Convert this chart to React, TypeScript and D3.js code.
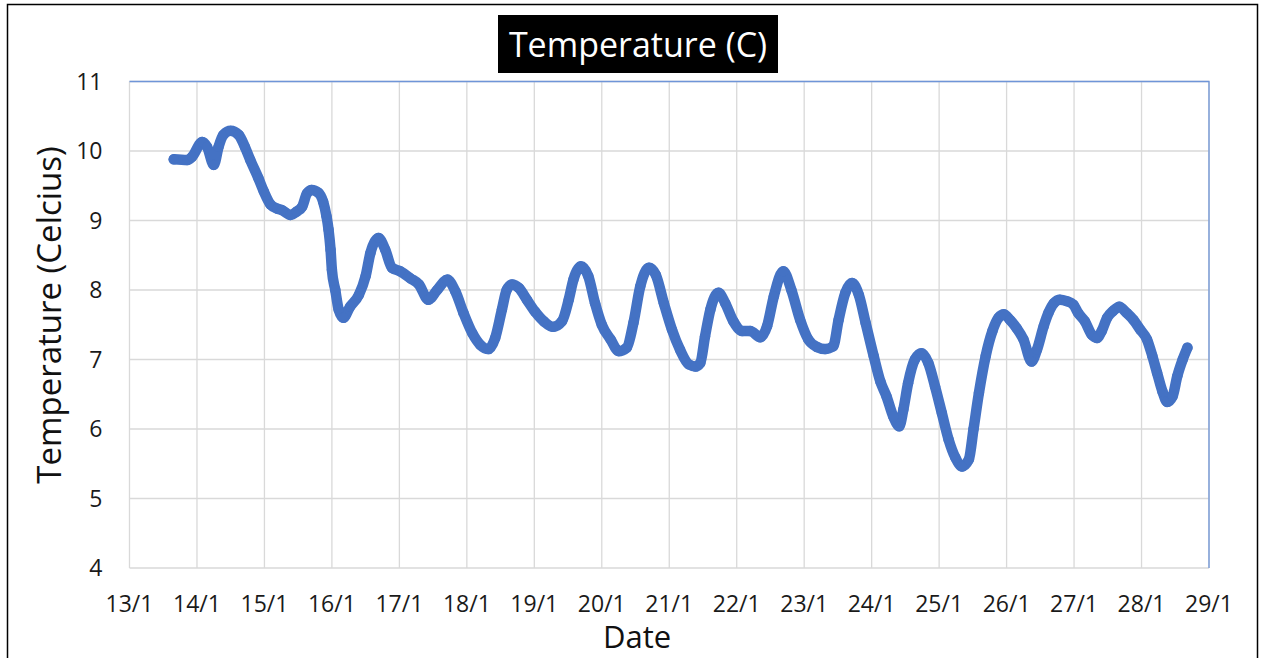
import React, { useEffect, useRef } from "react";
import * as d3 from "d3";

// day of month (fractional) and temperature
const days = [
  13.656, 13.855, 13.93, 14.077, 14.15, 14.25, 14.32, 14.39, 14.5, 14.62, 14.71, 14.79, 14.91, 14.99,
  15.09, 15.19, 15.26, 15.385, 15.48, 15.56, 15.63, 15.7, 15.8, 15.87, 15.92, 15.95, 15.98, 16.0,
  16.05, 16.1, 16.17, 16.27, 16.4, 16.5, 16.57, 16.69, 16.79, 16.89, 17.01, 17.16, 17.29, 17.43,
  17.56, 17.71, 17.83, 17.95, 18.08, 18.2, 18.32, 18.42, 18.52, 18.59, 18.67, 18.77, 18.89, 19.01,
  19.14, 19.28, 19.41, 19.51, 19.58, 19.69, 19.8, 19.9, 20.0, 20.13, 20.25, 20.37, 20.47, 20.57,
  20.7, 20.8, 20.92, 21.04, 21.16, 21.29, 21.39, 21.46, 21.53, 21.61, 21.73, 21.83, 21.95, 22.08,
  22.2, 22.35, 22.45, 22.55, 22.69, 22.81, 22.94, 23.06, 23.19, 23.31, 23.43, 23.51, 23.61, 23.71,
  23.81, 23.91, 24.03, 24.13, 24.22, 24.32, 24.41, 24.47, 24.54, 24.64, 24.74, 24.84, 24.94, 25.04,
  25.14, 25.24, 25.34, 25.44, 25.51, 25.59, 25.69, 25.79, 25.88, 25.96, 26.05, 26.15, 26.25, 26.37,
  26.45, 26.55, 26.62, 26.7, 26.79, 26.89, 26.99, 27.06, 27.16, 27.26, 27.34, 27.41, 27.49, 27.58,
  27.67, 27.78, 27.88, 27.98, 28.08, 28.16, 28.23, 28.31, 28.38, 28.46, 28.53, 28.61, 28.68,
];
const temps = [
  9.88, 9.87, 9.92, 10.13, 10.06, 9.8, 10.06, 10.23, 10.29, 10.23, 10.06, 9.87, 9.61, 9.42,
  9.23, 9.17, 9.15, 9.08, 9.13, 9.2, 9.39, 9.44, 9.4, 9.27, 9.06, 8.87, 8.58, 8.29,
  8.0, 7.72, 7.6, 7.76, 7.93, 8.2, 8.53, 8.75, 8.58, 8.32, 8.27, 8.17, 8.08, 7.86,
  8.0, 8.15, 7.98, 7.67, 7.38, 7.21, 7.15, 7.31, 7.72, 8.0, 8.08, 8.03, 7.86, 7.69,
  7.55, 7.47, 7.55, 7.86, 8.15, 8.34, 8.2, 7.81, 7.5, 7.29, 7.12, 7.17, 7.53, 8.05,
  8.32, 8.22, 7.81, 7.43, 7.14, 6.93, 6.9, 6.95, 7.33, 7.72, 7.96, 7.81, 7.55, 7.41,
  7.41, 7.32, 7.48, 7.91, 8.27, 8.0, 7.57, 7.29, 7.18, 7.15, 7.19, 7.57, 7.96, 8.1,
  7.93, 7.53, 7.05, 6.68, 6.47, 6.18, 6.04, 6.28, 6.66, 7.0, 7.09, 6.95, 6.61, 6.23,
  5.85, 5.59, 5.46, 5.56, 6.0, 6.52, 7.05, 7.41, 7.6, 7.65, 7.57, 7.45, 7.29, 6.97,
  7.14, 7.48, 7.67, 7.81, 7.86, 7.84, 7.79, 7.67, 7.55, 7.36, 7.31, 7.41, 7.6, 7.7,
  7.76, 7.67, 7.57, 7.43, 7.29, 7.05, 6.81, 6.54, 6.39, 6.47, 6.76, 7.0, 7.17,
];

const dayTicks = [13, 14, 15, 16, 17, 18, 19, 20, 21, 22, 23, 24, 25, 26, 27, 28, 29];
const tempTicks = [4, 5, 6, 7, 8, 9, 10, 11];

function App() {
  const ref = useRef<SVGSVGElement>(null);

  useEffect(() => {
    const width = 1261;
    const height = 658;
    const margin = { top: 81.5, left: 129.5, bottom: 90, right: 52 };
    const font = "'Open Sans', sans-serif";
    const blue = "#4472C4";

    const svg = d3.select(ref.current);
    svg.selectAll("*").remove();

    const x = d3.scaleLinear().domain([13, 29]).range([margin.left, width - margin.right]);
    const y = d3.scaleLinear().domain([4, 11]).range([height - margin.bottom, margin.top]);

    svg.append("rect").attr("width", width).attr("height", height).attr("fill", "#fff");
    // outer frame
    svg.append("rect")
      .attr("x", 7.5).attr("y", 4.5).attr("width", 1250).attr("height", 700)
      .attr("fill", "none").attr("stroke", "#000").attr("stroke-width", 1.5);

    // grid
    const grid = svg.append("g").attr("stroke", "#d9d9d9").attr("stroke-width", 1.3);
    grid.selectAll("line.v").data(dayTicks).enter().append("line")
      .attr("x1", d => x(d)).attr("x2", d => x(d))
      .attr("y1", y(11)).attr("y2", y(4));
    grid.selectAll("line.h").data(tempTicks).enter().append("line")
      .attr("x1", x(13)).attr("x2", x(29))
      .attr("y1", d => y(d)).attr("y2", d => y(d));

    // plot area border, blue on top and right
    svg.append("path")
      .attr("d", `M${x(13)},${y(11)}H${x(29)}V${y(4)}`)
      .attr("fill", "none").attr("stroke", "#6f95d8").attr("stroke-width", 1.3);

    // x axis labels
    svg.append("g").selectAll("text").data(dayTicks).enter().append("text")
      .attr("x", d => x(d)).attr("y", y(4) + 44)
      .attr("text-anchor", "middle")
      .style("font-family", font).style("font-size", "23px").attr("fill", "#1a1a1a")
      .text(d => `${d}/1`);

    // y axis labels
    svg.append("g").selectAll("text").data(tempTicks).enter().append("text")
      .attr("x", x(13) - 27).attr("y", d => y(d) + 8)
      .attr("text-anchor", "end")
      .style("font-family", font).style("font-size", "23px").attr("fill", "#1a1a1a")
      .text(d => d);

    // series
    const pts = days.map((d, i) => [d, temps[i]] as [number, number]);
    const line = d3.line<[number, number]>()
      .x(d => x(d[0])).y(d => y(d[1]))
      .curve(d3.curveMonotoneX);
    svg.append("path").datum(pts)
      .attr("d", line)
      .attr("fill", "none").attr("stroke", blue)
      .attr("stroke-width", 10.5).attr("stroke-linejoin", "round").attr("stroke-linecap", "round");
    svg.append("g").attr("fill", blue).selectAll("circle").data(pts).enter().append("circle")
      .attr("cx", d => x(d[0])).attr("cy", d => y(d[1])).attr("r", 5.2);

    // title
    svg.append("rect").attr("x", 498).attr("y", 15).attr("width", 280).attr("height", 58).attr("fill", "#000");
    svg.append("text")
      .attr("x", 638).attr("y", 57).attr("text-anchor", "middle")
      .style("font-family", font).style("font-size", "34px").attr("fill", "#fff")
      .text("Temperature (C)");

    // axis titles
    svg.append("text")
      .attr("x", 637).attr("y", 648).attr("text-anchor", "middle")
      .style("font-family", font).style("font-size", "31px").attr("fill", "#111")
      .text("Date");
    svg.append("text")
      .attr("transform", `translate(61, ${315}) rotate(-90)`)
      .attr("text-anchor", "middle")
      .style("font-family", font).style("font-size", "33px").attr("fill", "#111")
      .text("Temperature (Celcius)");
  }, []);

  return (
    <div style={{ position: "absolute", left: 0, top: 0 }}>
      <svg ref={ref} width={1261} height={658} style={{ display: "block" }} />
    </div>
  );
}

export default App;
